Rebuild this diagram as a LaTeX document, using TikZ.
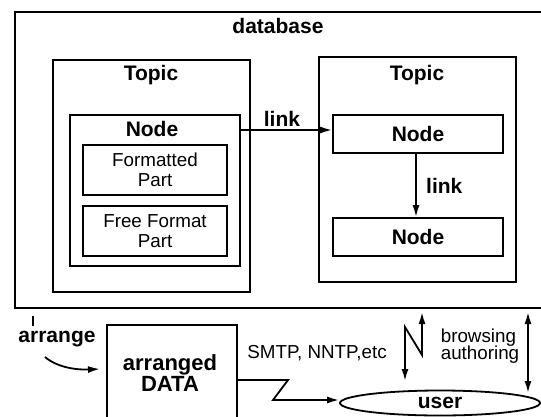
\documentclass[tikz,border=0pt]{standalone}
\usepackage{fontspec}
\setmainfont{Liberation Sans}
\usetikzlibrary{arrows.meta,shapes.geometric,calc}
\begin{document}
\begin{tikzpicture}[x=1pt,y=-1pt,
  line width=1.8pt,
  box/.style={draw,rectangle,inner sep=0pt},
  boldtxt/.style={font=\fontsize{21}{21}\selectfont\bfseries},
  plaintxt/.style={font=\fontsize{18.8}{21}\selectfont,align=center},
  tip/.style={-{Latex[length=12pt,width=7pt]}},
  dtip/.style={{Latex[length=12pt,width=7pt]}-{Latex[length=12pt,width=7pt]}}]
\useasboundingbox (0,0) rectangle (541,416);
\clip (0,0) rectangle (541,416);

% database frame
\node[box,minimum width=535pt,minimum height=296pt] (db) at (282.5,160) {};
\node[boldtxt] (dblabel) at (278,26) {database};

% left topic with a node made of two parts
\node[box,minimum width=197pt,minimum height=232pt] (topicL) at (151.5,176) {};
\node[boldtxt] (topicLlabel) at (151,75) {Topic};
\node[box,minimum width=170pt,minimum height=151pt] (nodeL) at (155,190.5) {};
\node[boldtxt] (nodeLlabel) at (152,129) {Node};
\node[box,plaintxt,minimum width=144pt,minimum height=50pt] (fmt) at (155,170) {Formatted\\[-1pt]Part};
\node[box,plaintxt,minimum width=144pt,minimum height=50pt] (free) at (155,231) {Free Format\\[-1pt]Part};

% right topic with two linked nodes
\node[box,minimum width=197pt,minimum height=225pt] (topicR) at (417.5,169.5) {};
\node[boldtxt] (topicRlabel) at (417,75) {Topic};
\node[box,boldtxt,minimum width=170pt,minimum height=38pt] (node1) at (418,134) {Node};
\node[box,boldtxt,minimum width=170pt,minimum height=38pt] (node2) at (418,237) {Node};

\draw[tip] ($(node1.west -| nodeL.east)+(0,-4)$) -- node[boldtxt,above=-1pt,pos=0.45] (linkA) {link} ($(node1.west)+(0,-4)$);
\draw[tip] ($(node1.south)+(-2,0)$) -- node[boldtxt,right=6pt] (linkB) {link} ($(node2.north)+(-2,0)$);

% lower part: arranging data and delivering it to the user
\coordinate (tickA) at (33,316);
\coordinate (tickB) at (33,326);
\draw[line width=1.6pt] (tickA) -- (tickB);
\node[boldtxt] (arrange) at (57,339) {arrange};
\node[box,minimum width=130pt,minimum height=110pt] (data) at (172,380) {};
\node[font=\fontsize{22}{22}\selectfont\bfseries,align=center] (datatext) at (170,373) {arranged\\[-1pt]DATA};
\coordinate (arrS) at (45,357);
\coordinate (arrE) at (100,369);
\draw[tip] (arrS) .. controls (58,368) and (78,370) .. (arrE);

\node[plaintxt] (proto) at (317,353) {SMTP, NNTP,etc};
\node[draw,ellipse,inner sep=0pt,minimum width=200pt,minimum height=25pt,boldtxt] (user) at (440,403) {user};

\coordinate (z1) at (288,380);
\coordinate (z2) at (273,400);
\draw[tip] (data.east |- z1) -- (z1) -- (z2) -- (z2 -| user.west);

\coordinate (n1) at (422,312);
\coordinate (n2) at (422,355);
\coordinate (n3) at (405,327);
\coordinate (n4) at (405,381);
\draw[dtip] (n1) -- (n2) -- (n3) -- (n4);

\node[plaintxt,align=left] (browse) at (480,346) {browsing\\[-4pt]authoring};
\coordinate (b1) at (528,312);
\coordinate (b2) at (528,393);
\draw[dtip] (b1) -- (b2);
\end{tikzpicture}
\end{document}
